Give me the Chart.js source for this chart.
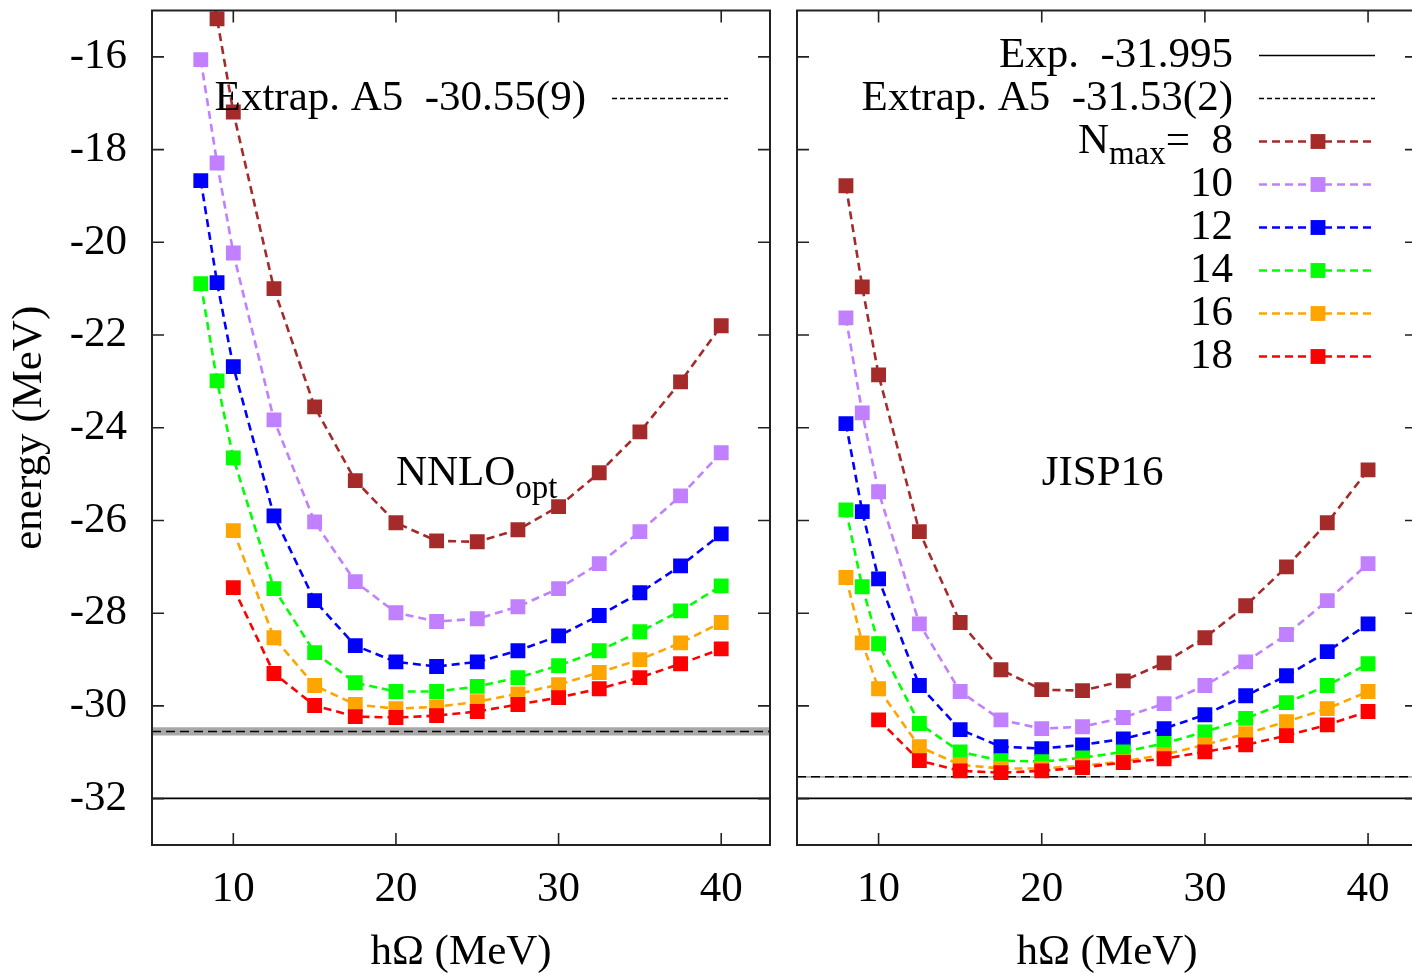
<!DOCTYPE html>
<html>
<head>
<meta charset="utf-8">
<script src="https://cdn.jsdelivr.net/npm/chart.js@4/dist/chart.umd.min.js"></script>
<style>
html, body { margin: 0; padding: 0; overflow: hidden; background: #fff; width: 1412px; height: 974px; }
#left { position: absolute; left: 0; top: 0; width: 785px; height: 974px; }
#right { position: absolute; left: 785px; top: 0; width: 645px; height: 974px; }
</style>
</head>
<body>
<div id="left"><canvas id="nnloGraph"></canvas></div>
<div id="right"><canvas id="jispGraph"></canvas></div>
<script>
const hw = [8, 9, 10, 12.5, 15, 17.5, 20, 22.5, 25, 27.5, 30, 32.5, 35, 37.5, 40];
const nmaxList = [8, 10, 12, 14, 16, 18];
const nmaxColors = ['#a52a2a', '#c080ff', '#0000ff', '#00ff00', '#ffa500', '#ff0000'];
const xTicks = [10, 20, 30, 40];
const yTicks = [-32, -30, -28, -26, -24, -22, -20, -18, -16];

// NNLOopt
const nnlo8  = [-13.0, -15.18, -17.19, -21.0, -23.55, -25.14, -26.05, -26.44, -26.46, -26.2, -25.70, -24.97, -24.09, -23.01, -21.80];
const nnlo10 = [-16.06, -18.29, -20.23, -23.83, -26.03, -27.32, -27.99, -28.18, -28.12, -27.86, -27.47, -26.93, -26.24, -25.47, -24.54];
const nnlo12 = [-18.67, -20.87, -22.68, -25.90, -27.73, -28.70, -29.05, -29.15, -29.05, -28.81, -28.49, -28.05, -27.56, -26.98, -26.29];
const nnlo14 = [-20.89, -22.99, -24.65, -27.47, -28.85, -29.50, -29.69, -29.69, -29.58, -29.39, -29.13, -28.81, -28.40, -27.95, -27.41];
const nnlo16 = [null, null, -26.22, -28.53, -29.56, -29.97, -30.06, -30.02, -29.91, -29.74, -29.54, -29.28, -29.00, -28.64, -28.20];
const nnlo18 = [null, null, -27.45, -29.30, -29.99, -30.23, -30.25, -30.21, -30.12, -29.97, -29.82, -29.63, -29.39, -29.09, -28.77];

// JISP16
const jisp8  = [-18.78, -20.96, -22.86, -26.24, -28.20, -29.22, -29.65, -29.67, -29.46, -29.07, -28.53, -27.84, -27.00, -26.05, -24.91];
const jisp10 = [-21.63, -23.68, -25.38, -28.23, -29.69, -30.30, -30.49, -30.45, -30.25, -29.95, -29.56, -29.05, -28.46, -27.73, -26.93];
const jisp12 = [-23.91, -25.81, -27.26, -29.56, -30.51, -30.88, -30.92, -30.84, -30.71, -30.49, -30.19, -29.78, -29.35, -28.83, -28.23];
const jisp14 = [-25.77, -27.43, -28.66, -30.38, -30.99, -31.18, -31.20, -31.12, -30.99, -30.81, -30.56, -30.27, -29.93, -29.56, -29.09];
const jisp16 = [-27.23, -28.64, -29.63, -30.88, -31.27, -31.35, -31.35, -31.29, -31.20, -31.05, -30.84, -30.60, -30.34, -30.06, -29.69];
const jisp18 = [null, null, -30.30, -31.18, -31.40, -31.44, -31.40, -31.33, -31.22, -31.14, -30.99, -30.84, -30.64, -30.41, -30.12];

const expEnergy = -31.995;
const nnloExtrap = -30.55, nnloErr = 0.09;
const jispExtrap = -31.53, jispErr = 0.02;

const serif = '"Liberation Serif", "Times New Roman", serif';
const fontSize = 43;
Chart.defaults.font.family = serif;
Chart.defaults.font.size = fontSize;
Chart.defaults.color = '#000';

function seriesSets(values, withKey) {
    return values.map((vals, i) => ({
        label: 'Nmax=' + nmaxList[i],
        data: vals.map((v, j) => ({x: hw[j], y: v})),
        borderColor: nmaxColors[i],
        backgroundColor: nmaxColors[i],
        borderWidth: 2.6,
        borderDash: [8, 5],
        pointStyle: 'rect',
        pointRadius: 10.5,
        pointBorderWidth: 0,
        pointBackgroundColor: nmaxColors[i],
        order: nmaxList.length - i,
        keyRow: withKey ? i + 2 : undefined,
        keyParts: i === 0 ? [{t: 'N'}, {t: 'max', sub: true}, {t: '=  ' + nmaxList[i]}] : [{t: String(nmaxList[i])}]
    }));
}

function refSets(extrap, err, extrapText, withExp) {
    const ends = [5, 43];
    return [{
        label: 'Exp.',
        data: ends.map(x => ({x: x, y: expEnergy})),
        borderColor: '#000', borderWidth: 1.6, pointRadius: 0, order: 7,
        keyRow: withExp ? 0 : undefined,
        keyParts: [{t: 'Exp.  ' + expEnergy}]
    }, {
        label: 'Extrap. A5',
        data: ends.map(x => ({x: x, y: extrap})),
        borderColor: '#000', borderWidth: 1.5, borderDash: [9, 5], pointRadius: 0, order: 7,
        keyRow: 1, keyDash: [5, 3], keyWidth: 1.3,
        keyParts: [{t: extrapText}]
    }, {
        label: 'band',
        data: ends.map(x => ({x: x, y: extrap + err})),
        borderWidth: 0, pointRadius: 0, order: 8,
        backgroundColor: '#a8a8a8',
        fill: {value: extrap - err}
    }];
}

const framePlugin = {
    id: 'frame',
    afterDatasetsDraw(chart) {
        const {ctx, chartArea: a, scales: {x, y}} = chart;
        ctx.save();
        ctx.strokeStyle = '#222';
        ctx.lineWidth = 1.6;
        ctx.setLineDash([]);
        ctx.beginPath();
        xTicks.forEach(v => {
            const px = x.getPixelForValue(v);
            ctx.moveTo(px, a.bottom); ctx.lineTo(px, a.bottom - 12);
            ctx.moveTo(px, a.top); ctx.lineTo(px, a.top + 12);
        });
        yTicks.forEach(v => {
            const py = y.getPixelForValue(v);
            ctx.moveTo(a.left, py); ctx.lineTo(a.left + 12, py);
            ctx.moveTo(a.right, py); ctx.lineTo(a.right - 12, py);
        });
        ctx.stroke();
        ctx.lineWidth = 2;
        ctx.strokeRect(a.left, a.top, a.right - a.left, a.bottom - a.top);
        ctx.restore();
    }
};

const keyPlugin = {
    id: 'key',
    afterDatasetsDraw(chart, args, opts) {
        const {ctx, chartArea: a, scales: {x, y}} = chart;
        const textRight = a.right - 184, lineL = a.right - 158, lineR = a.right - 42, mark = a.right - 99;
        const big = fontSize + 'px ' + serif, small = '33px ' + serif;
        ctx.save();
        ctx.textBaseline = 'middle';
        ctx.textAlign = 'left';
        chart.data.datasets.forEach(ds => {
            if (ds.keyRow === undefined) return;
            const yy = a.top + 45 + 43 * ds.keyRow;
            let w = 0;
            ds.keyParts.forEach(p => { ctx.font = p.sub ? small : big; w += ctx.measureText(p.t).width; });
            let tx = textRight - w;
            ctx.fillStyle = '#000';
            ds.keyParts.forEach(p => {
                ctx.font = p.sub ? small : big;
                ctx.fillText(p.t, tx, p.sub ? yy + 14 : yy);
                tx += ctx.measureText(p.t).width;
            });
            ctx.strokeStyle = ds.borderColor;
            ctx.lineWidth = ds.keyWidth || ds.borderWidth;
            ctx.setLineDash(ds.keyDash || ds.borderDash || []);
            ctx.beginPath();
            ctx.moveTo(lineL, yy); ctx.lineTo(lineR, yy);
            ctx.stroke();
            if (ds.pointRadius) {
                const s = ds.pointRadius * Math.SQRT2;
                ctx.fillStyle = ds.borderColor;
                ctx.fillRect(mark - s / 2, yy - s / 2, s, s);
            }
        });
        // model name inside the frame
        const lx = x.getPixelForValue(opts.at[0]), ly = y.getPixelForValue(opts.at[1]);
        ctx.fillStyle = '#000';
        ctx.font = big;
        ctx.fillText(opts.name, lx, ly);
        if (opts.sub) {
            const nw = ctx.measureText(opts.name).width;
            ctx.font = small;
            ctx.fillText(opts.sub, lx + nw, ly + 15);
        }
        ctx.restore();
    }
};

function makeChart(canvasId, datasets, cfg) {
    return new Chart(document.getElementById(canvasId).getContext('2d'), {
        type: 'line',
        data: {datasets: datasets},
        options: {
            responsive: true,
            maintainAspectRatio: false,
            animation: false,
            layout: {padding: {left: 0, top: 8, right: cfg.padRight, bottom: 0}},
            plugins: {
                legend: {display: false},
                tooltip: {enabled: false},
                key: {name: cfg.name, sub: cfg.sub, at: [20, -25]}
            },
            scales: {
                x: {
                    type: 'linear', min: 5, max: 43,
                    grid: {display: false, drawTicks: false},
                    border: {display: false},
                    afterBuildTicks: s => { s.ticks = xTicks.map(v => ({value: v})); },
                    afterFit: s => { s.height = 129; s.paddingLeft = 0; s.paddingRight = 0; },
                    ticks: {padding: 19, font: {size: fontSize}},
                    title: {display: true, text: 'hΩ (MeV)', font: {size: fontSize, lineHeight: 1}, padding: 0}
                },
                y: {
                    type: 'linear', min: -33, max: -15,
                    grid: {display: false, drawTicks: false},
                    border: {display: false},
                    afterBuildTicks: s => { s.ticks = yTicks.map(v => ({value: v})); },
                    afterFit: s => { s.width = cfg.yWidth; s.paddingTop = 0; s.paddingBottom = 0; },
                    ticks: {display: cfg.yLabels, padding: 25, font: {size: fontSize}},
                    title: {display: cfg.yLabels, text: 'energy (MeV)', font: {size: fontSize, lineHeight: 1.2}, padding: {top: 4, bottom: 0}}
                }
            }
        },
        plugins: [framePlugin, keyPlugin]
    });
}

const nnloChart = makeChart('nnloGraph',
    seriesSets([nnlo8, nnlo10, nnlo12, nnlo14, nnlo16, nnlo18], false)
        .concat(refSets(nnloExtrap, nnloErr, 'Extrap. A5  -30.55(9)', false)),
    {padRight: 15, yWidth: 152, yLabels: true, name: 'NNLO', sub: 'opt'});

const jispChart = makeChart('jispGraph',
    seriesSets([jisp8, jisp10, jisp12, jisp14, jisp16, jisp18], true)
        .concat(refSets(jispExtrap, jispErr, 'Extrap. A5  -31.53(2)', true)),
    {padRight: 13, yWidth: 12, yLabels: false, name: 'JISP16', sub: ''});
</script>
</body>
</html>
